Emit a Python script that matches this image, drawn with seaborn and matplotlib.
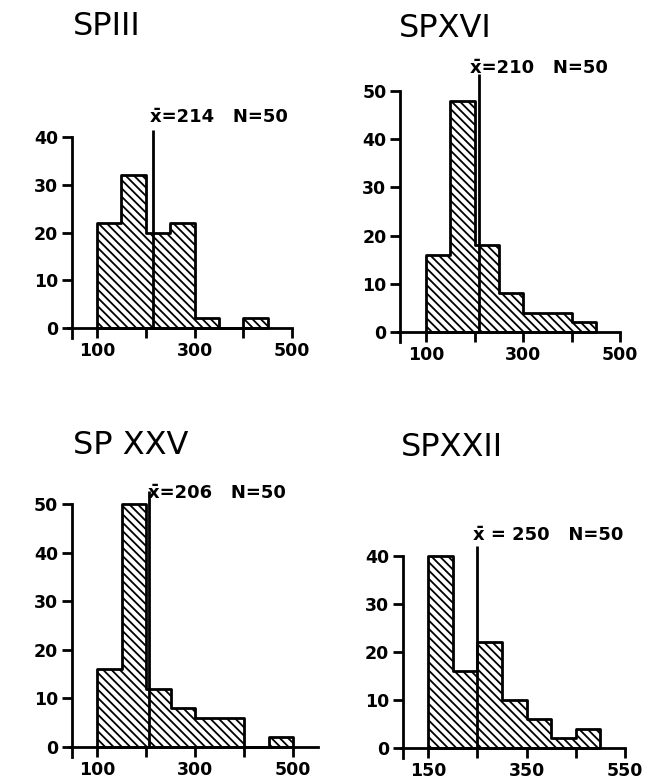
import matplotlib
matplotlib.use('Agg')
import numpy as np
import pandas as pd
import seaborn as sns
import matplotlib.pyplot as plt

# DATA - percent of cells per 50-unit class (N=50, so each cell = 2%)
titles = ['SPIII', 'SPXVI', 'SP XXV', 'SPXXII']
edges_spiii = [100, 150, 200, 250, 300, 350, 400, 450]
pct_spiii = [22, 32, 20, 22, 2, 0, 2]
edges_spxvi = [100, 150, 200, 250, 300, 350, 400, 450]
pct_spxvi = [16, 48, 18, 8, 4, 4, 2]
edges_spxxv = [100, 150, 200, 250, 300, 350, 400, 450, 500]
pct_spxxv = [16, 50, 12, 8, 6, 6, 0, 2]
edges_spxxii = [150, 200, 250, 300, 350, 400, 450, 500]
pct_spxxii = [40, 16, 22, 10, 6, 2, 4]
means = [214, 210, 206, 250]
n_cells = [50, 50, 50, 50]
xticks_100 = [100, 200, 300, 400, 500]
xlabels_100 = ['100', '', '300', '', '500']
xticks_150 = [150, 250, 350, 450, 550]
xlabels_150 = ['150', '', '350', '', '550']
yticks_40 = [0, 10, 20, 30, 40]
yticks_50 = [0, 10, 20, 30, 40, 50]

sns.set_style('ticks')
plt.rcParams['font.family'] = ['DejaVu Sans']
plt.rcParams['hatch.linewidth'] = 1.3
plt.rcParams['hatch.color'] = 'black'
plt.rcParams['text.color'] = 'black'
plt.rcParams['xtick.color'] = 'black'
plt.rcParams['ytick.color'] = 'black'
plt.rcParams['axes.labelcolor'] = 'black'

W, H = 649, 783
fig = plt.figure(figsize=(W / 100, H / 100), dpi=100)


def rect(xref, xref_px, sx, y0_py, sy, xlim, ylim):
    # axes box in figure fractions from pixel anchors of the reference
    left = xref_px - (xref - xlim[0]) * sx
    width = (xlim[1] - xlim[0]) * sx
    bottom = y0_py + (0 - ylim[0]) * sy
    height = (ylim[1] - ylim[0]) * sy
    return [left / W, 1 - bottom / H, width / W, height / H]


panels = [
    dict(edges=edges_spiii, pct=pct_spiii, xt=xticks_100, xl=xlabels_100, yt=yticks_40,
         anchor=(100, 97, 0.4875, 328, 4.775), xlim=(30, 520), ylim=(-3, 50),
         spine_x=49, xaxis=(41, 500), mtop=41.5, tx=-6, ty=44.2,
         mtxt='x\u0304=214   N=50', title_px=(73, 35)),
    dict(edges=edges_spxvi, pct=pct_spxvi, xt=xticks_100, xl=xlabels_100, yt=yticks_50,
         anchor=(100, 426, 0.485, 332, 4.82), xlim=(30, 520), ylim=(-3, 60),
         spine_x=47, xaxis=(43, 500), mtop=53.6, tx=-19, ty=54.8,
         mtxt='x\u0304=210   N=50', title_px=(399, 37)),
    dict(edges=edges_spxxv, pct=pct_spxxv, xt=xticks_100, xl=xlabels_100, yt=yticks_50,
         anchor=(100, 97, 0.49, 747, 4.86), xlim=(30, 570), ylim=(-3, 60),
         spine_x=49, xaxis=(43, 550), mtop=52.6, tx=-2, ty=52.3,
         mtxt='x\u0304=206   N=50', title_px=(73, 454)),
    dict(edges=edges_spxxii, pct=pct_spxxii, xt=xticks_150, xl=xlabels_150, yt=yticks_40,
         anchor=(150, 428, 0.4925, 748, 4.8), xlim=(80, 570), ylim=(-3, 50),
         spine_x=99, xaxis=(95, 550), mtop=42, tx=-9, ty=44.4,
         mtxt='x\u0304 = 250   N=50', title_px=(401, 456)),
]

for i, p in enumerate(panels):
    ax = fig.add_axes(rect(*p['anchor'], p['xlim'], p['ylim']))
    ax.patch.set_alpha(0)
    edges = p['edges']
    centers = [(a + b) / 2 for a, b in zip(edges[:-1], edges[1:])]
    df = pd.DataFrame({'length': centers, 'pct': p['pct']})
    sns.histplot(data=df, x='length', weights='pct', bins=edges, element='step',
                 fill=True, facecolor='white', edgecolor='black', linewidth=2,
                 hatch='\\\\\\\\', ax=ax)

    # mean line, drawn past the top of the y axis
    ax.vlines(means[i], 0, p['mtop'], color='black', linewidth=2, clip_on=False)
    ax.text(means[i] + p['tx'], p['ty'], p['mtxt'], ha='left', va='center',
            fontsize=13, fontweight='semibold', clip_on=False)

    ax.set_xlim(p['xlim'])
    ax.set_ylim(p['ylim'])
    ax.set_xticks(p['xt'])
    ax.set_xticklabels(p['xl'])
    ax.set_yticks(p['yt'])
    ax.set_xlabel('')
    ax.set_ylabel('')

    sns.despine(ax=ax)
    ax.spines['left'].set_position(('data', p['spine_x']))
    ax.spines['bottom'].set_position(('data', 0))
    ax.spines['left'].set_bounds(-2, p['yt'][-1])
    ax.spines['bottom'].set_bounds(*p['xaxis'])
    for s in ['left', 'bottom']:
        ax.spines[s].set_linewidth(2)
        ax.spines[s].set_color('black')
    ax.tick_params(axis='both', direction='out', length=7, width=2, color='black',
                   labelcolor='black', labelsize=12.5, pad=3)
    for lab in ax.get_xticklabels() + ax.get_yticklabels():
        lab.set_fontweight('bold')

    fig.text(p['title_px'][0] / W, 1 - p['title_px'][1] / H, titles[i],
             fontsize=23, ha='left', va='baseline', color='black')

fig.savefig('out.png', dpi=100, facecolor='white')
